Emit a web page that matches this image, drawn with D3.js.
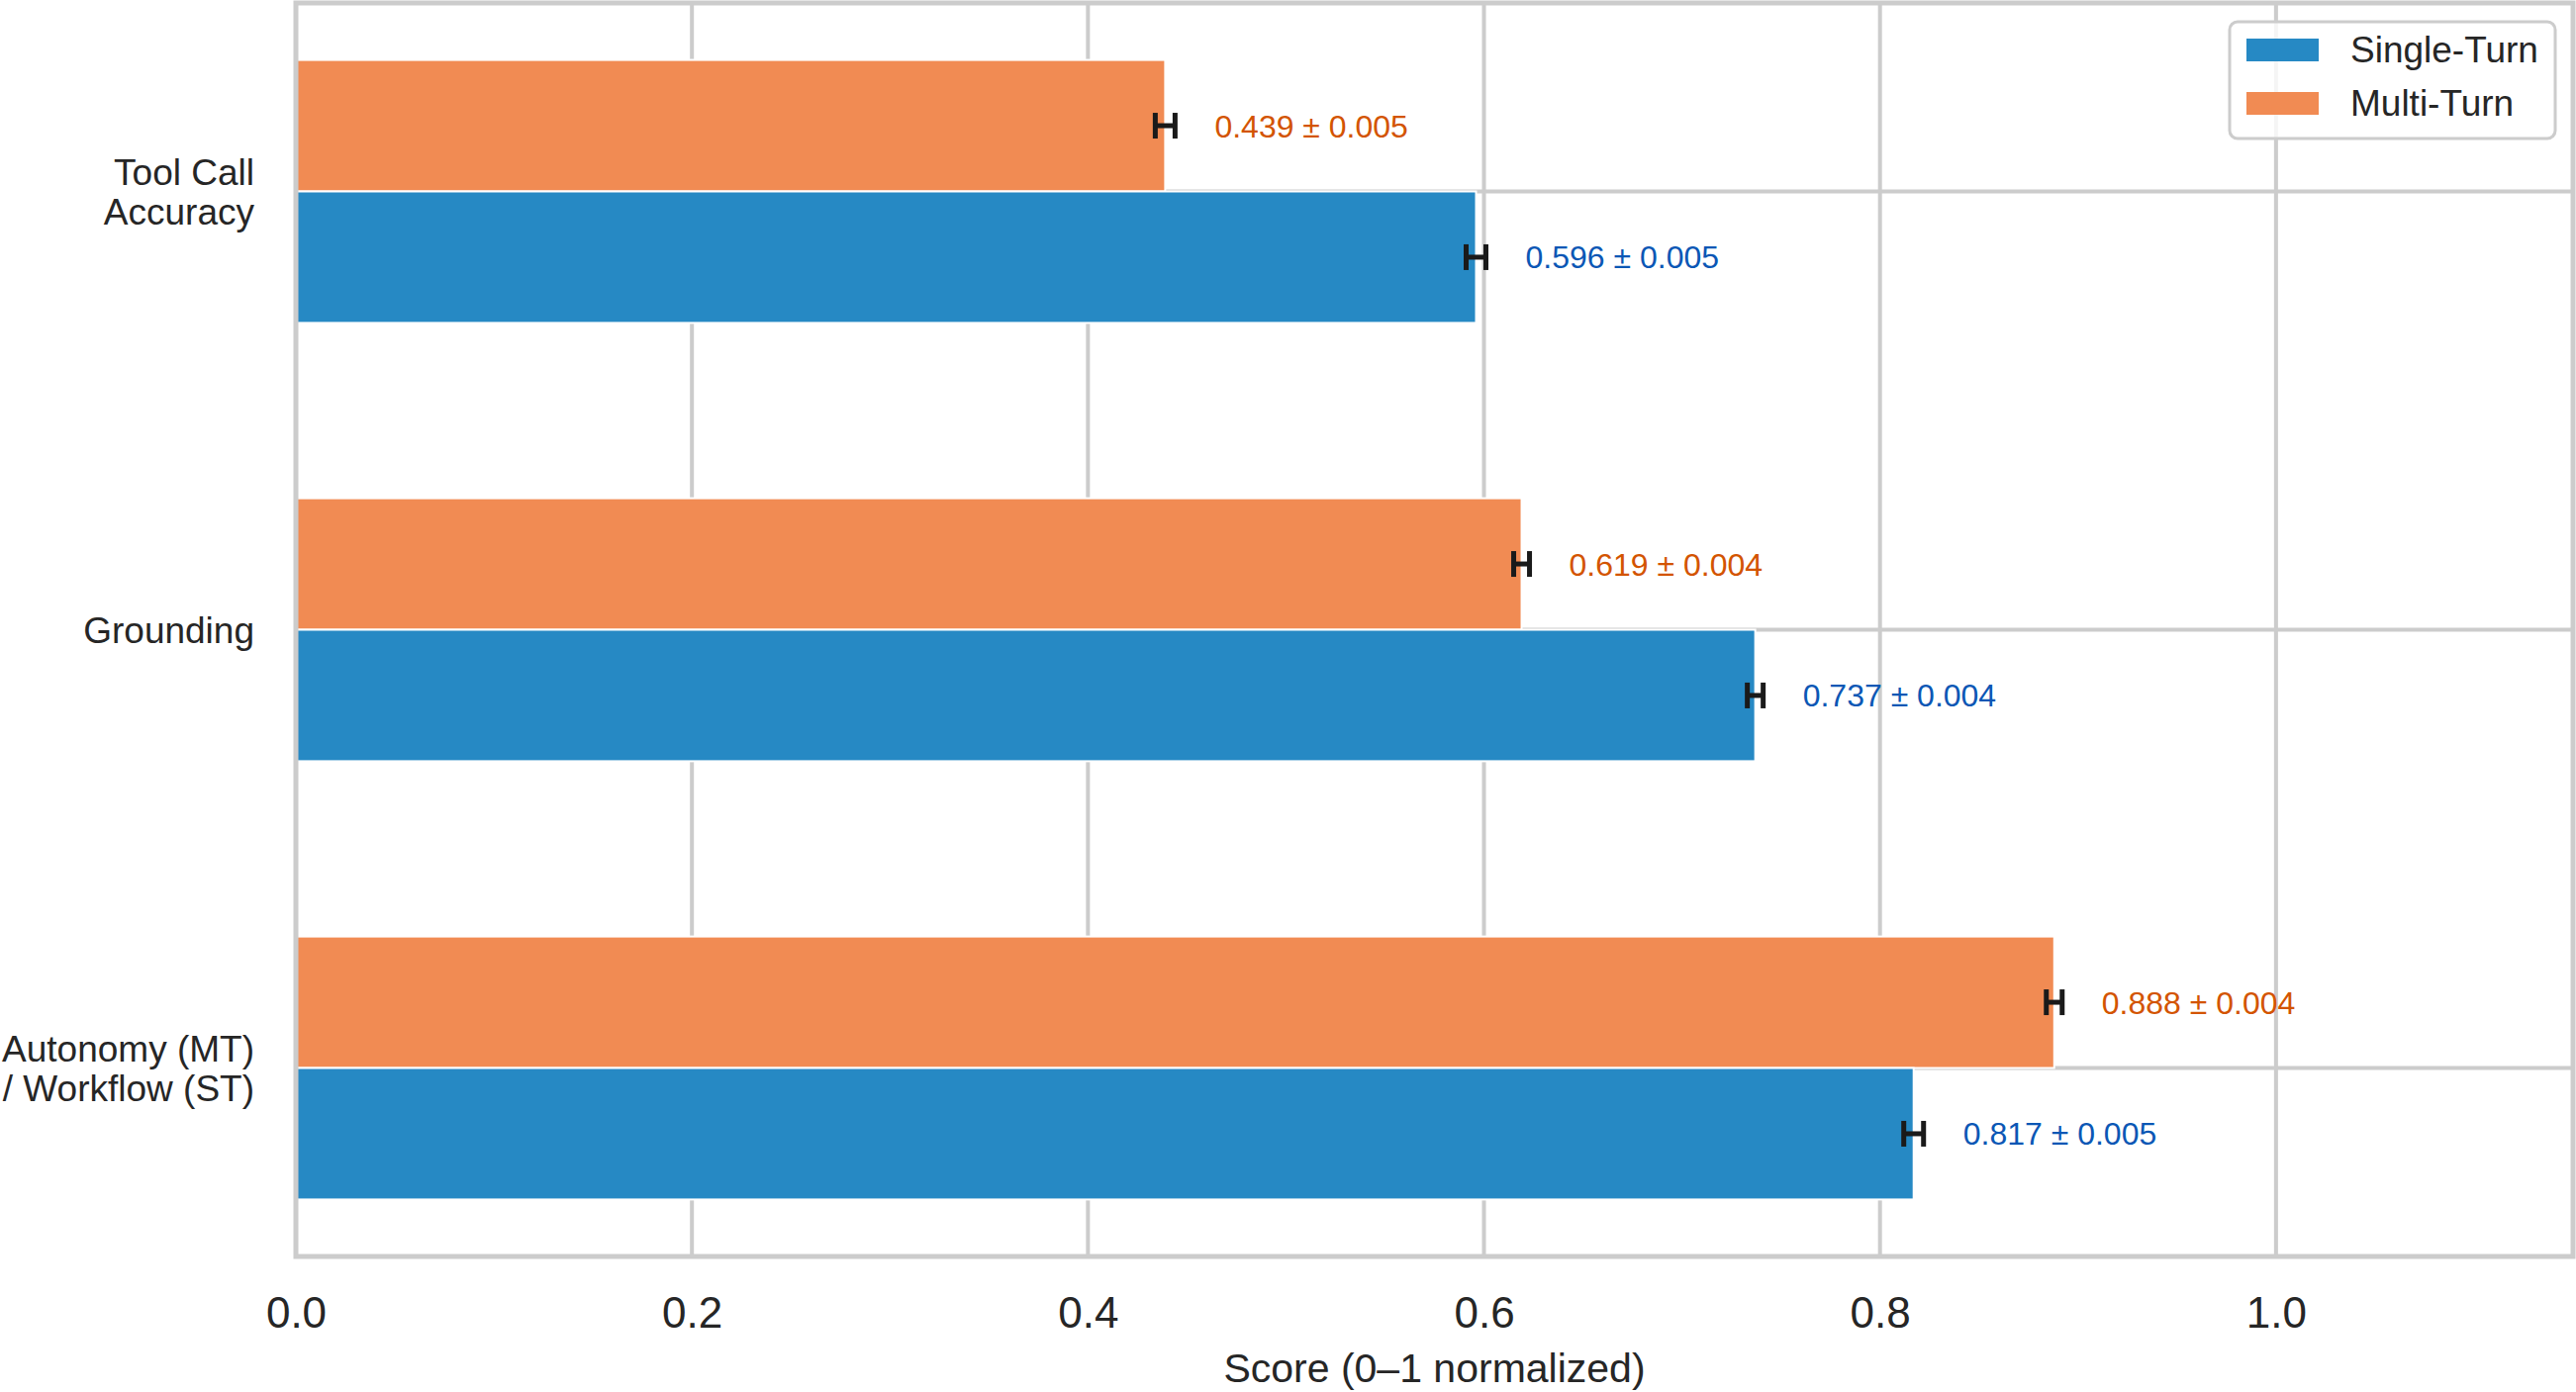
<!doctype html>
<html>
<meta http-equiv="Content-type" content="text/html; charset=utf-8" />
<head>
  <title>Scores</title>
  <script type="text/javascript" src="https://cdn.jsdelivr.net/npm/d3@7"></script>
  <style>
  body{margin:0;background:#fff;}
  text{font-family:"Liberation Sans", Arial, sans-serif;}
  </style>
</head>
<body>
<script>
    var categories = [['Tool Call', 'Accuracy'], ['Grounding'], ['Autonomy (MT)', '/ Workflow (ST)']];
    var singleTurn = [0.596, 0.737, 0.817];
    var singleErr = [0.005, 0.004, 0.005];
    var multiTurn = [0.439, 0.619, 0.888];
    var multiErr = [0.005, 0.004, 0.004];
    var xTicks = [0.0, 0.2, 0.4, 0.6, 0.8, 1.0];
    var seriesNames = ['Single-Turn', 'Multi-Turn'];

    var W = 2603, H = 1407;
    var pLeft = 299, pRight = 2600, pTop = 3, pBottom = 1270;
    var barH = 0.3;

    var svg = d3.select('body').append('svg')
        .attr('width', W)
        .attr('height', H);

    var x = d3.scaleLinear().domain([0, 1.15]).range([pLeft, pRight]);
    var y = d3.scaleLinear().domain([-0.43, 2.43]).range([pTop, pBottom]);

    // grid
    var grid = svg.append('g');
    grid.selectAll('line.v').data(xTicks).enter().append('line')
        .attr('x1', function(d){return x(d);})
        .attr('x2', function(d){return x(d);})
        .attr('y1', pTop).attr('y2', pBottom)
        .attr('stroke', '#cccccc').attr('stroke-width', 4);
    grid.selectAll('line.h').data(categories).enter().append('line')
        .attr('x1', pLeft).attr('x2', pRight)
        .attr('y1', function(d, i){return y(i);})
        .attr('y2', function(d, i){return y(i);})
        .attr('stroke', '#cccccc').attr('stroke-width', 4);

    var series = [
        {name: 'Multi-Turn', vals: multiTurn, errs: multiErr, off: -barH, color: '#f18b53', text: '#d35400'},
        {name: 'Single-Turn', vals: singleTurn, errs: singleErr, off: 0, color: '#2689c4', text: '#0b57b5'}
    ];

    series.forEach(function(s){
        var g = svg.append('g');
        var rows = s.vals.map(function(v, i){return {v: v, e: s.errs[i], i: i};});
        g.selectAll('rect').data(rows).enter().append('rect')
            .attr('x', x(0))
            .attr('y', function(d){return y(d.i + s.off);})
            .attr('width', function(d){return x(d.v) - x(0);})
            .attr('height', y(barH) - y(0))
            .attr('fill', s.color)
            .attr('stroke', '#ffffff').attr('stroke-width', 2);

        var eb = g.selectAll('g.eb').data(rows).enter().append('g');
        var cy = function(d){return y(d.i + s.off + barH / 2);};
        eb.append('line')
            .attr('x1', function(d){return x(d.v - d.e);})
            .attr('x2', function(d){return x(d.v + d.e);})
            .attr('y1', cy).attr('y2', cy)
            .attr('stroke', '#1a1a1a').attr('stroke-width', 5);
        [-1, 1].forEach(function(sg){
            eb.append('line')
                .attr('x1', function(d){return x(d.v + sg * d.e);})
                .attr('x2', function(d){return x(d.v + sg * d.e);})
                .attr('y1', function(d){return cy(d) - 13;})
                .attr('y2', function(d){return cy(d) + 13;})
                .attr('stroke', '#1a1a1a').attr('stroke-width', 5);
        });

        g.selectAll('text').data(rows).enter().append('text')
            .attr('x', function(d){return x(d.v + d.e + 0.02);})
            .attr('y', function(d){return cy(d);})
            .attr('dy', '0.36em')
            .attr('font-size', 32)
            .attr('fill', s.text)
            .text(function(d){return d.v.toFixed(3) + ' \u00b1 ' + d.e.toFixed(3);});
    });

    // spines
    svg.append('rect')
        .attr('x', pLeft).attr('y', pTop)
        .attr('width', pRight - pLeft).attr('height', pBottom - pTop)
        .attr('fill', 'none')
        .attr('stroke', '#cccccc').attr('stroke-width', 5);

    // x axis
    var xAxis = d3.axisBottom(x).tickValues(xTicks).tickSize(0).tickFormat(d3.format('.1f'));
    var ax = svg.append('g').attr('transform', 'translate(0,' + pBottom + ')').call(xAxis);
    ax.select('.domain').remove();
    ax.selectAll('text')
        .attr('y', 72).attr('dy', 0)
        .attr('font-size', 44)
        .attr('fill', '#262626')
        .style('font-family', '"Liberation Sans", Arial, sans-serif');

    svg.append('text')
        .attr('x', (pLeft + pRight) / 2)
        .attr('y', 1397)
        .attr('text-anchor', 'middle')
        .attr('font-size', 41)
        .attr('fill', '#262626')
        .text('Score (0\u20131 normalized)');

    // category labels
    var cat = svg.selectAll('text.cat').data(categories).enter().append('text')
        .attr('class', 'cat')
        .attr('text-anchor', 'end')
        .attr('font-size', 37)
        .attr('fill', '#262626');
    cat.each(function(lines, i){
        var t = d3.select(this);
        var lh = 40;
        var y0 = y(i) - (lines.length - 1) * lh / 2;
        lines.forEach(function(l, j){
            t.append('tspan')
                .attr('x', 257)
                .attr('y', y0 + j * lh)
                .attr('dy', '0.36em')
                .text(l);
        });
    });

    // legend
    var lg = svg.append('g');
    lg.append('rect')
        .attr('x', 2253).attr('y', 22)
        .attr('width', 329).attr('height', 118)
        .attr('rx', 8)
        .attr('fill', '#ffffff').attr('fill-opacity', 0.8)
        .attr('stroke', '#cccccc').attr('stroke-width', 3);
    var legColors = {'Single-Turn': '#2689c4', 'Multi-Turn': '#f18b53'};
    seriesNames.forEach(function(n, i){
        var yy = 50 + i * 54;
        lg.append('rect')
            .attr('x', 2270).attr('y', yy - 11)
            .attr('width', 73).attr('height', 23)
            .attr('fill', legColors[n]);
        lg.append('text')
            .attr('x', 2375).attr('y', yy)
            .attr('dy', '0.36em')
            .attr('font-size', 37)
            .attr('fill', '#262626')
            .text(n);
    });
</script>
</body>
</html>
